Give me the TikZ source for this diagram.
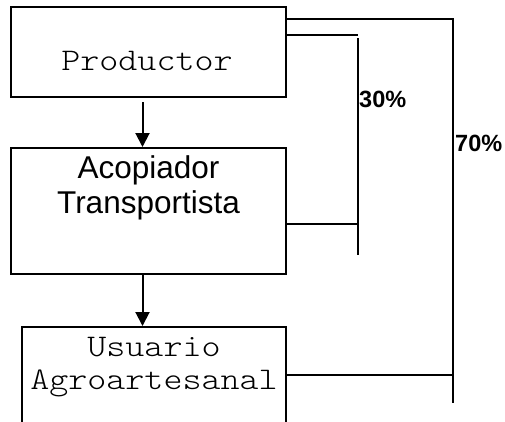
\documentclass[tikz,border=0pt]{standalone}
\usepackage{fontspec}
\setmainfont{Liberation Sans}
\setmonofont{lmmonolt10-regular}[Extension=.otf, FakeStretch=1.15]
\usetikzlibrary{arrows.meta,positioning}
\tikzset{
  box/.style={draw, line width=2pt, minimum width=275pt, inner sep=0pt},
  monotxt/.style={font=\fontsize{31.5}{33}\selectfont\ttfamily, align=center, inner sep=0pt},
  sanstxt/.style={font=\fontsize{31.5}{35}\selectfont, align=center, inner sep=0pt},
  pct/.style={font=\fontsize{23.5}{26}\selectfont\bfseries, anchor=west, inner sep=0pt},
  link/.style={line width=2pt},
  flow/.style={line width=2pt, -{Triangle[length=14pt,width=14pt]}},
}
\begin{document}
\begin{tikzpicture}[x=1pt, y=-1pt]
    \path[use as bounding box] (0,0) rectangle (505,421);
    \clip (0,0) rectangle (505,421);
    % boxes
    \node[box, minimum height=90pt] (prod) at (148.5,52) {};
    \node[monotxt, anchor=base] (prodtxt) at ([xshift=-1.5pt,yshift=-64pt]prod.north) {Productor};
    \node[box, minimum height=126pt] (acop) at (148.5,211) {};
    \node[sanstxt, below=8pt of acop.north] (acoptxt) {Acopiador\\Transportista};
    \node[box, minimum width=264pt, minimum height=110pt] (usu) at (154,382) {};
    \node[monotxt, below=11pt of usu.north] (usutxt) {Usuario\\Agroartesanal};
    % flow down
    \draw[flow] ([xshift=-6pt,yshift=-4pt]prod.south) coordinate (f1) -- (f1 |- acop.north);
    \draw[flow] ([xshift=-6pt]acop.south) coordinate (f2) -- (f2 |- usu.north);
    % rails
    \coordinate (rail30top) at (358,38);
    \coordinate (rail30bot) at (358,255);
    \coordinate (rail70bot) at (453,403);
    \draw[link] ([yshift=-13pt]prod.north east) -| (rail70bot);
    \draw[link] ([yshift=-29pt]prod.north east) coordinate (p30) -- (p30 -| rail30top);
    \draw[link] (rail30top) -- (rail30bot);
    \draw[link] ([yshift=-13pt]acop.east) coordinate (a30) -- (a30 -| rail30top);
    \draw[link] ([yshift=7pt]usu.east) coordinate (u70) -- (u70 -| rail70bot);
    \node[pct] (lbl30) at (359,99) {30\%};
    \node[pct] (lbl70) at (455,143.5) {70\%};
  \end{tikzpicture}
\end{document}
